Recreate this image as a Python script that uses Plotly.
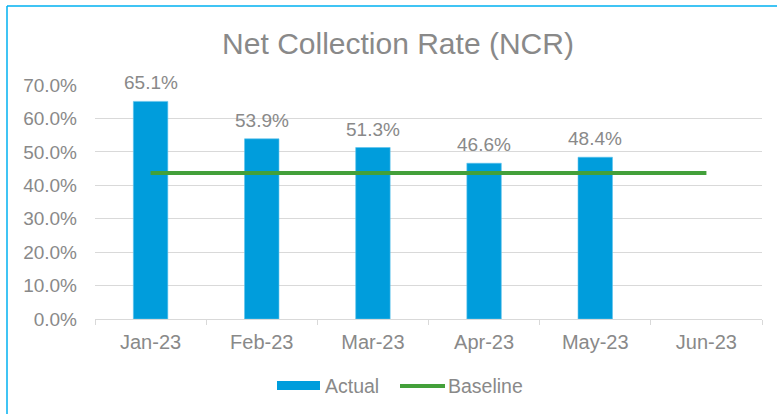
import plotly.graph_objects as go

categories = ["Jan-23", "Feb-23", "Mar-23", "Apr-23", "May-23", "Jun-23"]
actual = [65.1, 53.9, 51.3, 46.6, 48.4, None]
baseline = [43.7, 43.7, 43.7, 43.7, 43.7, 43.7]
y_ticks = [0, 10, 20, 30, 40, 50, 60, 70]
y_tick_labels = ["0.0%", "10.0%", "20.0%", "30.0%", "40.0%", "50.0%", "60.0%", "70.0%"]

W, H = 777, 414
L, R, T, B = 95, 15, 85, 95
GRAY = "#898989"
BLUE = "#009ddc"
GREEN = "#43a03a"
FONT = "Liberation Sans, Arial, sans-serif"

fig = go.Figure()
fig.add_trace(go.Bar(x=categories, y=actual, marker=dict(color=BLUE, line=dict(color="#5cc3ec", width=0.6)),
                     width=0.31, name="Actual", showlegend=False))
fig.add_trace(go.Scatter(x=categories, y=baseline, mode="lines", line=dict(color=GREEN, width=4),
                         name="Baseline", showlegend=False))

annotations = []
for c, v in zip(categories, actual):
    if v is None:
        continue
    annotations.append(dict(x=c, y=v, xref="x", yref="y", text=f"{v:.1f}%", showarrow=False,
                            yanchor="bottom", yshift=6, font=dict(size=19, color=GRAY, family=FONT)))

def px(x):
    return (x - L) / (W - L - R)

def py(y):
    return (H - B - y) / (H - T - B)

shapes = []
# legend
shapes.append(dict(type="rect", xref="paper", yref="paper", x0=px(277), x1=px(320), y0=py(390), y1=py(381),
                   fillcolor=BLUE, line=dict(width=0)))
shapes.append(dict(type="line", xref="paper", yref="paper", x0=px(400), x1=px(445), y0=py(386), y1=py(386),
                   line=dict(color=GREEN, width=4)))
annotations.append(dict(xref="paper", yref="paper", x=px(323), y=py(386), text="Actual", showarrow=False,
                        xanchor="left", yanchor="middle", font=dict(size=19.5, color=GRAY, family=FONT)))
annotations.append(dict(xref="paper", yref="paper", x=px(446), y=py(386), text="Baseline", showarrow=False,
                        xanchor="left", yanchor="middle", font=dict(size=19.5, color=GRAY, family=FONT)))
# chart border
shapes.append(dict(type="line", xref="paper", yref="paper", x0=px(7), x1=px(7), y0=py(6), y1=py(420),
                   line=dict(color="#00b0f0", width=1.5)))
shapes.append(dict(type="line", xref="paper", yref="paper", x0=px(7), x1=px(790), y0=py(6), y1=py(6),
                   line=dict(color="#00b0f0", width=1.5)))

fig.update_layout(
    width=W, height=H,
    margin=dict(l=L, r=R, t=T, b=B),
    paper_bgcolor="white", plot_bgcolor="white",
    title=dict(text="Net Collection Rate (NCR)", xref="container", x=398 / W, xanchor="center",
               yref="container", y=1 - 43 / H, yanchor="middle",
               font=dict(size=30, color=GRAY, family=FONT)),
    font=dict(family=FONT, color=GRAY),
    showlegend=False,
    xaxis=dict(type="category", showgrid=False, showline=True, linecolor="#d9d9d9", linewidth=1,
               ticks="outside", tickson="boundaries", ticklen=5, tickcolor="#d9d9d9",
               tickfont=dict(size=20, color=GRAY, family=FONT), ticklabelstandoff=5,
               range=[-0.5, 5.5]),
    yaxis=dict(range=[0, 70], tickvals=y_ticks, ticktext=y_tick_labels, showgrid=True, gridcolor="#d9d9d9",
               gridwidth=1, zeroline=False, showline=False,
               tickfont=dict(size=19, color=GRAY, family=FONT), ticklabelstandoff=17),
    annotations=annotations,
    shapes=shapes,
)

fig.write_html("out.html", config={"displayModeBar": False},
               post_script="document.body.style.margin='0';document.body.style.overflow='hidden';")
